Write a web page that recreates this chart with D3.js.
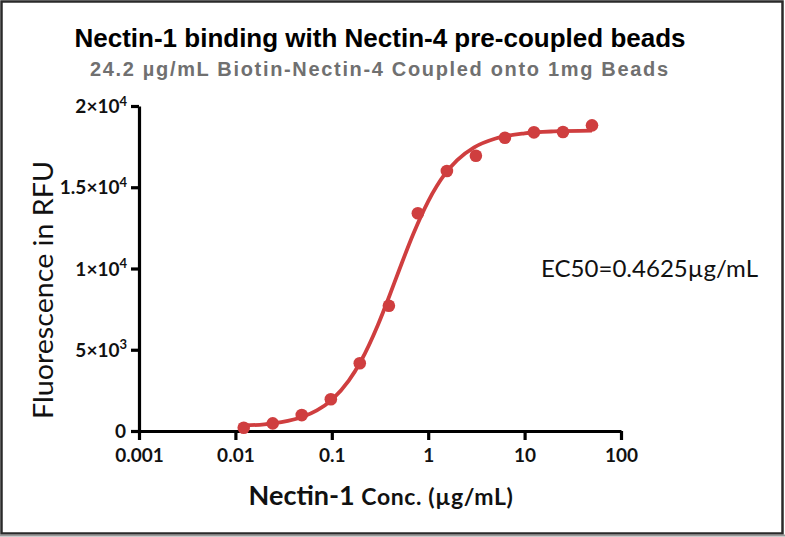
<!DOCTYPE html>
<html>
<head>
<meta charset="utf-8">
<script src="https://cdn.jsdelivr.net/npm/d3@7"></script>
<style>
  html, body { margin: 0; padding: 0; background: #fff; }
  svg { display: block; }
</style>
</head>
<body>
<svg id="chart" width="785" height="537"></svg>
<script>
// ---- data ----
const concentrations = [0.0122, 0.0244, 0.0488, 0.0977, 0.195, 0.391, 0.781, 1.5625, 3.125, 6.25, 12.5, 25, 50];
const rfuValues = [200, 470, 980, 1950, 4170, 7710, 13400, 16000, 16940, 18050, 18380, 18400, 18810];
// fitted curve
const fitConc = [0.0122, 0.02, 0.03, 0.05, 0.07, 0.1, 0.15, 0.2, 0.3, 0.4, 0.5, 0.7, 1, 1.5, 2, 3, 5, 10, 20, 50];
const fitRfu = [328, 413, 547, 876, 1265, 1917, 3095, 4291, 6512, 8386, 9908, 12123, 14133, 15832, 16673, 17458, 18001, 18320, 18436, 18484];
const xTicks = [0.001, 0.01, 0.1, 1, 10, 100];
const xTickLabels = ["0.001", "0.01", "0.1", "1", "10", "100"];
const yTicks = [0, 5000, 10000, 15000, 20000];
const yTickMantissa = ["0", "5×10", "1×10", "1.5×10", "2×10"];
const yTickExponent = ["", "3", "4", "4", "4"];
const titleText = "Nectin-1 binding with Nectin-4 pre-coupled beads";
const subtitleText = "24.2 µg/mL Biotin-Nectin-4 Coupled onto 1mg Beads";
const ec50Text = "EC50=0.4625µg/mL";

const red = "#cf3e3f";
const svg = d3.select("#chart");

// frame
svg.append("rect").attr("x", 1.5).attr("y", 1.5).attr("width", 781).attr("height", 532)
  .attr("fill", "#fff").attr("stroke", "#2a2a2a").attr("stroke-width", 2.5);
svg.append("line").attr("x1", 0).attr("x2", 785).attr("y1", 535.5).attr("y2", 535.5)
  .attr("stroke", "#999").attr("stroke-width", 2);

const x = d3.scaleLog().domain([0.001, 100]).range([139, 621]);
const y = d3.scaleLinear().domain([0, 20000]).range([431, 106]);

// titles
svg.append("text").attr("x", 380).attr("y", 47).attr("text-anchor", "middle")
  .attr("font-family", "Liberation Sans, Arial, sans-serif").attr("font-weight", "bold")
  .attr("font-size", 26).attr("fill", "#000").text(titleText);
svg.append("text").attr("x", 379).attr("y", 76).attr("text-anchor", "middle")
  .attr("font-family", "Liberation Sans, Arial, sans-serif").attr("font-weight", "bold")
  .attr("font-size", 20).attr("fill", "#707070")
  .attr("textLength", 578).attr("lengthAdjust", "spacing").text(subtitleText);

// axes
const xAxis = d3.axisBottom(x).tickValues(xTicks).tickFormat((d, i) => xTickLabels[i])
  .tickSize(9).tickSizeOuter(0).tickPadding(9);
const gx = svg.append("g").attr("transform", "translate(0,431)").call(xAxis);
gx.select(".domain").attr("stroke", "#000").attr("stroke-width", 3.2);
gx.selectAll(".tick line").attr("stroke", "#000").attr("stroke-width", 3.2);
gx.selectAll(".tick text").attr("font-family", "Lato, sans-serif").attr("font-weight", "bold")
  .attr("font-size", 19).attr("fill", "#111");

const yAxis = d3.axisLeft(y).tickValues(yTicks).tickFormat("").tickSize(8).tickSizeOuter(0);
const gy = svg.append("g").attr("transform", "translate(139,0)").call(yAxis);
gy.select(".domain").attr("stroke", "#000").attr("stroke-width", 3.2);
gy.selectAll(".tick line").attr("stroke", "#000").attr("stroke-width", 3.2);
gy.selectAll(".tick").each(function(d, i) {
  const t = d3.select(this).append("text")
    .attr("x", yTickExponent[i] ? -12 : -13).attr("y", 6.5).attr("text-anchor", "end")
    .attr("font-family", "Lato, sans-serif").attr("font-weight", "bold")
    .attr("font-size", 19).attr("fill", "#111");
  t.append("tspan").text(yTickMantissa[i]);
  if (yTickExponent[i]) {
    t.append("tspan").attr("dy", -7.5).attr("font-size", 13).text(yTickExponent[i]);
  }
});

// axis titles
svg.append("text").attr("transform", "translate(53,290) rotate(-90)").attr("text-anchor", "middle")
  .attr("font-family", "Lato, sans-serif")
  .attr("font-size", 27).attr("fill", "#111")
  .attr("textLength", 258).attr("lengthAdjust", "spacingAndGlyphs").text("Fluorescence in RFU");

const xl = svg.append("text").attr("x", 381).attr("y", 505).attr("text-anchor", "middle")
  .attr("font-family", "Lato, sans-serif").attr("font-weight", "bold").attr("fill", "#111");
xl.append("tspan").attr("font-size", 27).text("Nectin-1 ");
xl.append("tspan").attr("font-size", 23).attr("letter-spacing", 0.6).text("Conc. (µg/mL)");

// fit curve
const line = d3.line().x(d => x(d[0])).y(d => y(d[1])).curve(d3.curveMonotoneX);
svg.append("path").datum(fitConc.map((c, i) => [c, fitRfu[i]]))
  .attr("d", line).attr("fill", "none").attr("stroke", red).attr("stroke-width", 3.8);

// points
svg.append("g").selectAll("circle").data(concentrations).join("circle")
  .attr("cx", d => x(d)).attr("cy", (d, i) => y(rfuValues[i])).attr("r", 6.3).attr("fill", red);

// EC50 annotation
svg.append("text").attr("x", 541).attr("y", 277)
  .attr("font-family", "Lato, sans-serif").attr("font-size", 23).attr("fill", "#111")
  .attr("textLength", 217).attr("lengthAdjust", "spacingAndGlyphs").text(ec50Text);
</script>
</body>
</html>
